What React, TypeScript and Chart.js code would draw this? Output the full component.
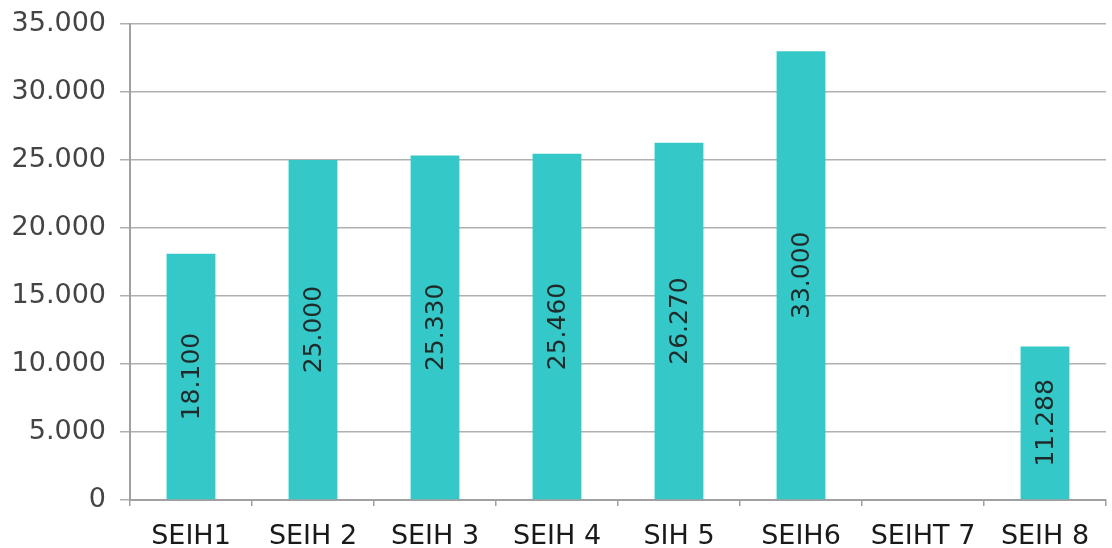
import React, { useEffect, useRef } from "react";
import { Chart, registerables } from "chart.js";

Chart.register(...registerables);

const categories = ["SEIH1", "SEIH 2", "SEIH 3", "SEIH 4", "SIH 5", "SEIH6", "SEIHT 7", "SEIH 8"];
const values: (number | null)[] = [18100, 25000, 25330, 25460, 26270, 33000, null, 11288];
const yMax = 35000;
const yStep = 5000;

const fmt = (v: number) => String(Math.round(v)).replace(/\B(?=(\d{3})+(?!\d))/g, ".");

const FONT = "'DejaVu Sans', Verdana, sans-serif";

const barLabels = {
  id: "barLabels",
  afterDatasetsDraw(chart: any) {
    const ctx = chart.ctx;
    const meta = chart.getDatasetMeta(0);
    ctx.save();
    ctx.font = `25px ${FONT}`;
    ctx.fillStyle = "#1f2a2a";
    ctx.textAlign = "center";
    ctx.textBaseline = "middle";
    meta.data.forEach((bar: any, i: number) => {
      const v = values[i];
      if (v == null) return;
      const cx = bar.x;
      const cy = (bar.y + bar.base) / 2;
      ctx.save();
      ctx.translate(cx, cy);
      ctx.rotate(-Math.PI / 2);
      ctx.fillText(fmt(v), 0, 1);
      ctx.restore();
    });
    ctx.restore();
  },
};

export default function App() {
  const ref = useRef<HTMLCanvasElement>(null);
  useEffect(() => {
    if (!ref.current) return;
    const chart = new Chart(ref.current, {
      type: "bar",
      data: {
        labels: categories,
        datasets: [
          {
            data: values,
            backgroundColor: "#35c8c8",
            categoryPercentage: 1,
            barPercentage: 0.4,
          },
        ],
      },
      plugins: [barLabels],
      options: {
        animation: false,
        responsive: false,
        devicePixelRatio: 1,
        layout: { padding: { top: 24, right: 6, left: 0, bottom: 0 } },
        plugins: { legend: { display: false }, tooltip: { enabled: false } },
        scales: {
          x: {
            grid: {
              offset: true,
              drawOnChartArea: false,
              drawTicks: true,
              tickLength: 6,
              color: "#a0a0a0",
              lineWidth: 1.5,
            },
            border: { color: "#a0a0a0", width: 2 },
            ticks: {
              color: "#1a1a1a",
              font: { family: FONT, size: 27 },
              padding: 15,
              maxRotation: 0,
              autoSkip: false,
            },
            afterFit: (s: any) => {
              s.height = 48;
              s.paddingLeft = 0;
              s.paddingRight = 0;
            },
          },
          y: {
            min: 0,
            max: yMax,
            ticks: {
              stepSize: yStep,
              color: "#444444",
              font: { family: FONT, size: 27 },
              padding: 14,
              callback: (v: any) => fmt(Number(v)),
            },
            grid: { color: "#b0b0b0", lineWidth: 1.5, tickLength: 10 },
            border: { color: "#a0a0a0", width: 2 },
            afterFit: (s: any) => {
              s.width = 130;
              s.paddingTop = 0;
              s.paddingBottom = 0;
            },
          },
        },
      },
    });
    return () => chart.destroy();
  }, []);
  return (
    <div style={{ position: "fixed", left: 0, top: 0, width: 1112, height: 548, background: "#fff" }}>
      <canvas ref={ref} width={1112} height={548} style={{ width: 1112, height: 548 }} />
    </div>
  );
}
